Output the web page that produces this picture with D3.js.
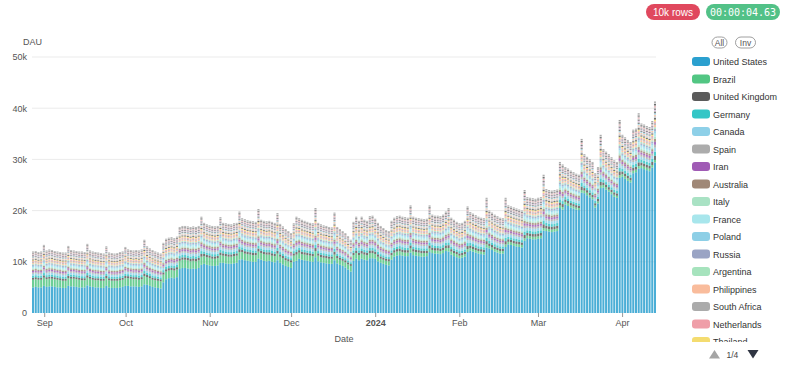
<!DOCTYPE html>
<html>
<head>
<meta charset="utf-8">
<script src="https://cdn.jsdelivr.net/npm/d3@7"></script>
<style>
  body { margin: 0; background: #fff; font-family: "Liberation Sans", Arial, sans-serif; }
  .axis text { fill: #555; font-size: 9px; font-family: "Liberation Sans", Arial, sans-serif; }
</style>
</head>
<body>
<svg id="chart" width="800" height="367"></svg>
<script>
// first day of the series (one bar per day)
var startDate = new Date(2023, 7, 28);

// daily active users, in thousands (week rows start on Monday)
var totalK = [
  12.0, 12.1, 11.9, 12.0, 13.3, 12.2, 12.4,
  12.3, 12.1, 12.0, 11.9, 11.8, 11.8, 13.1,
  12.3, 12.2, 12.1, 12.0, 12.0, 11.9, 13.5,
  12.2, 12.0, 11.9, 11.8, 11.7, 11.6, 13.0,
  11.8, 11.7, 11.6, 11.7, 11.9, 12.0, 12.9,
  12.4, 12.3, 12.2, 12.3, 12.2, 12.4, 14.3,
  13.0, 12.6, 12.3, 12.0, 11.8, 11.6, 13.7,
  14.5, 14.7, 14.8, 14.6, 14.9, 16.8, 17.0,
  17.0, 16.9, 16.8, 16.9, 16.8, 17.0, 18.8,
  17.6, 17.3, 17.1, 17.0, 16.9, 17.0, 18.7,
  17.6, 17.5, 17.4, 17.3, 17.5, 17.6, 19.8,
  18.5, 18.3, 18.1, 18.0, 17.9, 17.8, 20.3,
  18.2, 18.0, 17.9, 18.0, 17.8, 17.6, 19.5,
  17.4, 16.9, 16.4, 16.0, 15.6, 17.5, 18.8,
  18.5, 18.2, 18.0, 17.8, 17.6, 17.5, 20.5,
  17.6, 17.3, 17.1, 17.0, 16.8, 16.7, 19.6,
  16.8, 16.4, 16.0, 15.6, 15.0, 14.3, 17.8,
  18.8, 18.0, 18.8, 18.2, 18.0, 18.9, 19.0,
  18.4, 17.6, 17.0, 16.6, 16.2, 16.0, 18.0,
  18.6, 18.9, 19.0, 18.8, 18.7, 18.6, 21.0,
  18.8, 18.6, 18.5, 18.4, 18.3, 18.4, 21.0,
  19.2, 19.0, 19.0, 18.9, 19.2, 19.8, 20.5,
  18.6, 18.2, 17.8, 17.5, 17.6, 18.0, 20.8,
  19.7, 19.4, 19.1, 18.8, 18.6, 18.5, 22.5,
  20.0, 19.6, 19.2, 18.9, 18.6, 18.5, 22.5,
  21.0, 20.8, 20.6, 20.4, 20.2, 20.0, 24.0,
  22.6, 22.5, 22.4, 22.3, 22.5, 22.6, 27.0,
  24.2, 24.0, 23.9, 24.0, 24.1, 29.5, 29.0,
  28.5, 28.2, 27.8, 27.5, 27.2, 27.0, 34.0,
  31.0, 30.5, 30.0, 29.5, 27.3, 28.5, 34.8,
  32.0, 31.5, 31.0, 30.4, 29.8, 29.5, 37.7,
  34.8, 34.3, 33.8, 33.4, 35.8, 36.0, 39.0,
  37.0, 36.8, 36.5, 36.3, 37.5, 41.3
];

var unitedStatesK = [
  5.0, 5.1, 5.0, 5.0, 5.3, 5.1, 5.2,
  5.2, 5.1, 5.0, 5.0, 4.9, 4.9, 5.3,
  5.2, 5.2, 5.1, 5.0, 5.0, 5.0, 5.4,
  5.2, 5.1, 5.0, 5.0, 4.9, 4.9, 5.3,
  5.0, 4.9, 4.9, 4.9, 5.0, 5.1, 5.3,
  5.3, 5.2, 5.2, 5.2, 5.1, 5.2, 5.6,
  5.5, 5.3, 5.1, 5.0, 4.9, 4.8, 6.0,
  6.6, 6.8, 6.9, 6.8, 7.0, 8.6, 8.8,
  8.8, 8.7, 8.6, 8.7, 8.6, 8.8, 9.4,
  9.6, 9.4, 9.3, 9.2, 9.2, 9.3, 9.8,
  9.8, 9.7, 9.6, 9.6, 9.7, 9.8, 10.4,
  10.5, 10.3, 10.2, 10.1, 10.0, 10.0, 10.6,
  10.4, 10.2, 10.1, 10.2, 10.0, 9.9, 10.3,
  9.8, 9.5, 9.2, 9.0, 8.8, 10.0, 10.2,
  10.6, 10.4, 10.3, 10.2, 10.1, 10.0, 10.9,
  10.1, 9.9, 9.8, 9.7, 9.6, 9.6, 10.3,
  9.7, 9.4, 9.2, 8.9, 8.5, 8.1, 10.2,
  10.6, 10.3, 10.6, 10.4, 10.3, 10.7, 10.7,
  10.6, 10.1, 9.8, 9.6, 9.4, 9.3, 10.4,
  11.0, 11.2, 11.3, 11.2, 11.1, 11.1, 11.8,
  11.3, 11.2, 11.1, 11.0, 11.0, 11.1, 11.9,
  11.7, 11.6, 11.6, 11.5, 11.7, 12.1, 12.0,
  11.4, 11.1, 10.9, 10.7, 10.8, 11.0, 11.9,
  12.2, 12.0, 11.8, 11.6, 11.5, 11.4, 12.8,
  12.6, 12.3, 12.0, 11.8, 11.6, 11.6, 12.9,
  13.4, 13.3, 13.1, 13.0, 12.9, 12.8, 14.1,
  14.6, 14.5, 14.4, 14.4, 14.5, 14.6, 16.1,
  16.0, 15.9, 15.8, 15.9, 16.0, 20.5, 20.2,
  21.2, 20.9, 20.6, 20.4, 20.2, 20.1, 23.5,
  23.4, 23.0, 22.6, 22.2, 20.6, 21.4, 24.4,
  24.5, 24.1, 23.7, 23.2, 22.7, 22.5, 26.4,
  26.6, 26.2, 25.8, 25.5, 27.3, 27.5, 28.2,
  28.3, 28.1, 27.9, 27.7, 28.4, 29.4
];

var brazilK = [
  1.5, 1.5, 1.5, 1.5, 1.6, 1.5, 1.5,
  1.5, 1.5, 1.5, 1.4, 1.4, 1.4, 1.5,
  1.5, 1.5, 1.5, 1.5, 1.4, 1.4, 1.5,
  1.5, 1.4, 1.4, 1.4, 1.4, 1.4, 1.5,
  1.4, 1.4, 1.4, 1.4, 1.4, 1.4, 1.5,
  1.5, 1.5, 1.4, 1.4, 1.4, 1.4, 1.6,
  1.5, 1.5, 1.4, 1.4, 1.4, 1.4, 1.5,
  1.5, 1.5, 1.5, 1.5, 1.5, 1.6, 1.6,
  1.6, 1.6, 1.5, 1.5, 1.5, 1.5, 1.6,
  1.5, 1.5, 1.5, 1.4, 1.4, 1.4, 1.5,
  1.4, 1.4, 1.4, 1.4, 1.4, 1.4, 1.5,
  1.4, 1.3, 1.3, 1.3, 1.3, 1.3, 1.4,
  1.3, 1.3, 1.3, 1.2, 1.2, 1.2, 1.3,
  1.2, 1.2, 1.1, 1.1, 1.1, 1.2, 1.2,
  1.2, 1.1, 1.1, 1.1, 1.1, 1.1, 1.2,
  1.1, 1.0, 1.0, 1.0, 1.0, 1.0, 1.1,
  1.0, 1.0, 1.0, 1.0, 1.0, 1.1, 1.1,
  1.1, 1.0, 1.0, 1.0, 1.0, 1.0, 1.0,
  0.9, 0.9, 0.8, 0.8, 0.8, 0.8, 0.9,
  0.8, 0.8, 0.8, 0.7, 0.7, 0.7, 0.8,
  0.7, 0.7, 0.7, 0.7, 0.7, 0.6, 0.7,
  0.6, 0.6, 0.6, 0.6, 0.6, 0.6, 0.7,
  0.6, 0.6, 0.6, 0.5, 0.5, 0.5, 0.6,
  0.5, 0.5, 0.5, 0.5, 0.5, 0.5, 0.6,
  0.5, 0.5, 0.5, 0.5, 0.5, 0.5, 0.5,
  0.5, 0.5, 0.5, 0.5, 0.5, 0.5, 0.5,
  0.5, 0.5, 0.5, 0.5, 0.5, 0.5, 0.5,
  0.5, 0.5, 0.5, 0.5, 0.5, 0.5, 0.5,
  0.5, 0.5, 0.4, 0.4, 0.4, 0.4, 0.5,
  0.5, 0.5, 0.4, 0.4, 0.4, 0.4, 0.5,
  0.5, 0.5, 0.4, 0.4, 0.4, 0.4, 0.5,
  0.5, 0.5, 0.5, 0.4, 0.5, 0.5, 0.5,
  0.5, 0.5, 0.5, 0.5, 0.5, 0.5
];

// the smaller countries: their share of what is left above US + Brazil
var minorCountries = ["United Kingdom", "Germany", "Canada", "Spain", "Iran", "Australia", "Italy",
  "France", "Poland", "Russia", "Argentina", "Philippines", "South Africa", "Netherlands", "Thailand",
  "India", "Mexico", "Turkey", "Japan", "Indonesia", "Sweden", "Ukraine", "Vietnam", "Colombia",
  "Egypt", "Pakistan", "Portugal", "Belgium", "Chile"];
var minorShares = [0.07, 0.07, 0.07, 0.05, 0.05, 0.05, 0.04,
  0.05, 0.04, 0.04, 0.03, 0.04, 0.03, 0.03, 0.03,
  0.03, 0.03, 0.025, 0.025, 0.02, 0.02, 0.02, 0.02, 0.02,
  0.02, 0.02, 0.02, 0.02, 0.02];

var countryColors = ["#2ba0cf", "#52c683", "#5b5b5b", "#34c6c6", "#8ed0e8", "#acacac", "#a05bb5",
  "#a08877", "#a9e2c4", "#a8e6ec", "#8dcfe6", "#9aa4c4", "#a6e3bd", "#f9bc9c", "#ababab", "#ef9ea8",
  "#f4dc70", "#5b5b5b", "#c8c8c8", "#f7c1a4", "#9fd6e6", "#666666", "#b9b9b9", "#d7b5e0", "#5b5b5b",
  "#c0c0c0", "#f3a9b1", "#a0a0a0", "#555555", "#cfcfcf", "#8f8f8f"];

var yTicks = [0, 10000, 20000, 30000, 40000, 50000];
var legendPageSize = 17; // legend shows page 1 of 4

(function() {
  // ---- build rows for the stack
  var countries = ["United States", "Brazil"].concat(minorCountries);
  var dates = totalK.map(function(v, i) { return d3.timeDay.offset(startDate, i); });

  var rows = dates.map(function(date, i) {
    var row = { date: date };
    row["United States"] = unitedStatesK[i] * 1000;
    row["Brazil"] = brazilK[i] * 1000;
    var rest = (totalK[i] - unitedStatesK[i] - brazilK[i]) * 1000;
    minorCountries.forEach(function(c, j) { row[c] = rest * minorShares[j]; });
    return row;
  });

  var series = d3.stack().keys(countries)(rows);

  var svg = d3.select("#chart");
  var plotLeft = 32, plotRight = 656, plotTop = 57, plotBottom = 313;

  var x = d3.scaleBand()
    .domain(dates.map(function(d) { return +d; }))
    .range([plotLeft, plotRight])
    .paddingInner(0.25)
    .paddingOuter(0);

  var step = x.step();
  var xTime = d3.scaleTime()
    .domain([startDate, d3.timeDay.offset(startDate, dates.length)])
    .range([plotLeft + step / 2, plotRight + step / 2]);

  var y = d3.scaleLinear().domain([0, 50000]).range([plotBottom, plotTop]);

  // gridlines
  svg.append("g")
    .selectAll("line")
    .data(yTicks.filter(function(t) { return t > 0; }))
    .enter().append("line")
      .attr("x1", plotLeft).attr("x2", plotRight)
      .attr("y1", function(d) { return y(d); })
      .attr("y2", function(d) { return y(d); })
      .attr("stroke", "#ebebeb")
      .attr("stroke-width", 1);

  // stacked bars
  svg.append("g")
    .attr("fill-opacity", 0.85)
    .selectAll("g")
    .data(series)
    .enter().append("g")
      .attr("fill", function(d, i) { return countryColors[i]; })
    .selectAll("rect")
    .data(function(d) { return d; })
    .enter().append("rect")
      .attr("x", function(d) { return x(+d.data.date); })
      .attr("width", x.bandwidth())
      .attr("y", function(d) { return y(d[1]); })
      .attr("height", function(d) { return Math.max(0, y(d[0]) - y(d[1])); });

  // y axis
  var yAxis = svg.append("g")
    .attr("class", "axis")
    .attr("transform", "translate(" + (plotLeft - 5) + ",0)")
    .call(d3.axisLeft(y).tickValues(yTicks).tickSize(0).tickPadding(0)
      .tickFormat(function(d) { return d === 0 ? "0" : (d / 1000) + "k"; }));
  yAxis.select(".domain").remove();

  svg.append("text")
    .attr("x", 23).attr("y", 45)
    .attr("fill", "#555").attr("font-size", 9)
    .text("DAU");

  // x axis
  var xAxis = svg.append("g")
    .attr("class", "axis")
    .attr("transform", "translate(0," + plotBottom + ")")
    .call(d3.axisBottom(xTime).ticks(d3.timeMonth.every(1)).tickSize(4).tickPadding(3)
      .tickFormat(function(d) { return d.getMonth() === 0 ? d3.timeFormat("%Y")(d) : d3.timeFormat("%b")(d); }));
  xAxis.select(".domain").remove();
  xAxis.selectAll(".tick line").attr("stroke", "#999");
  xAxis.selectAll(".tick text")
    .attr("font-weight", function(d) { return d.getMonth() === 0 ? "bold" : "normal"; });

  svg.append("text")
    .attr("x", (plotLeft + plotRight) / 2).attr("y", 342)
    .attr("text-anchor", "middle")
    .attr("fill", "#555").attr("font-size", 9)
    .text("Date");

  // badges top right
  var badges = [
    { label: "10k rows", x: 646, w: 54, color: "#e0485e", font: "Liberation Sans, Arial, sans-serif" },
    { label: "00:00:04.63", x: 706, w: 74, color: "#52c187", font: "DejaVu Sans Mono, monospace" }
  ];
  var badge = svg.selectAll(".badge").data(badges).enter().append("g").attr("class", "badge");
  badge.append("rect")
    .attr("x", function(d) { return d.x; }).attr("y", 4)
    .attr("width", function(d) { return d.w; }).attr("height", 16)
    .attr("rx", 8).attr("fill", function(d) { return d.color; });
  badge.append("text")
    .attr("x", function(d) { return d.x + d.w / 2; }).attr("y", 15.5)
    .attr("text-anchor", "middle").attr("fill", "#fff")
    .attr("font-size", 10).attr("font-family", function(d) { return d.font; })
    .text(function(d) { return d.label; });

  // All / Inv buttons
  var buttons = [{ label: "All", x: 712, w: 15 }, { label: "Inv", x: 735.5, w: 20 }];
  var btn = svg.selectAll(".btn").data(buttons).enter().append("g").attr("class", "btn");
  btn.append("rect")
    .attr("x", function(d) { return d.x; }).attr("y", 37)
    .attr("width", function(d) { return d.w; }).attr("height", 11)
    .attr("rx", 5.5).attr("fill", "#fff").attr("stroke", "#888").attr("stroke-width", 0.8);
  btn.append("text")
    .attr("x", function(d) { return d.x + d.w / 2; }).attr("y", 45.5)
    .attr("text-anchor", "middle").attr("fill", "#555").attr("font-size", 8.5)
    .text(function(d) { return d.label; });

  // legend (scroll page 1 of 4, clipped at the bottom)
  svg.append("clipPath").attr("id", "legendClip")
    .append("rect").attr("x", 680).attr("y", 50).attr("width", 120).attr("height", 292);

  var legend = svg.append("g").attr("clip-path", "url(#legendClip)")
    .selectAll("g")
    .data(countries.slice(0, legendPageSize))
    .enter().append("g")
      .attr("transform", function(d, i) { return "translate(692," + (57 + i * 17.5) + ")"; });
  legend.append("rect")
    .attr("width", 18).attr("height", 9).attr("rx", 3)
    .attr("fill", function(d, i) { return countryColors[i]; });
  legend.append("text")
    .attr("x", 21).attr("y", 8)
    .attr("fill", "#333").attr("font-size", 9)
    .text(function(d) { return d; });

  // page navigation
  svg.append("path").attr("d", "M709,358.5 L714.5,350 L720,358.5 Z").attr("fill", "#a5a5a5");
  svg.append("text").attr("x", 726.5).attr("y", 357.5).attr("fill", "#444").attr("font-size", 8.5).text("1/4");
  svg.append("path").attr("d", "M747.5,350 L758.5,350 L753,358.5 Z").attr("fill", "#2f3542");
})();
</script>
</body>
</html>
